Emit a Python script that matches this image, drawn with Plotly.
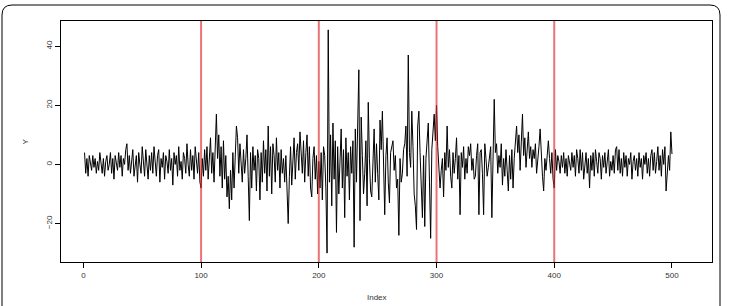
import plotly.graph_objects as go

# ---- data ----
y_values = [
    4, -3, 2, -4, 3, 1, -2, 3, -1, 2,
    -3, 1, -2, 4, 0, -3, 2, -4, 1, 3,
    -2, 0, 4, -3, 2, -5, 3, 1, -2, 4,
    -1, 3, -4, 2, 0, 5, 7, -2, 3, -3,
    2, 5, -4, 1, 3, -6, 4, 0, -3, 6,
    2, -4, 5, 1, -5, 3, -2, 4, -3, 6,
    0, -4, 3, 5, -6, 2, -1, 4, -5, 3,
    1, -3, 5, -2, 2, -7, 4, 0, 3, -4,
    6, -2, 1, -5, 4, 2, -3, 7, 0, -4,
    5, -2, 3, -5, 6, 1, -3, 4, -6, -8,
    2, -4, 5, -2, 6, -5, 3, 9, -3, 4,
    -6, 8, 17, 2, 10, -4, 6, -8, 8, -5,
    3, -11, -4, -15, -2, -12, 4, -8, 6, 13,
    9, -3, 7, 2, -6, 5, -3, 2, 10, -4,
    -19, 4, -8, 6, -2, 3, -9, 5, 2, -12,
    4, -6, 8, -3, 5, -9, 13, -4, 6, -10,
    7, 3, -6, 9, -2, 4, -8, 5, -3, 2,
    -6, 3, -9, -20, -4, 6, -7, 3, 9, -5,
    4, 7, -2, 11, 5, -3, 8, -6, 4, 10,
    -4, 6, -8, -11, 2, 6, -5, 3, -10, 1,
    -8, 4, -12, 6, 3, -8, -30, 45.5, -6, 10,
    -14, 14, -5, 8, -23, 6, -10, 4, 12, -8,
    5, -18, 9, -4, 4, -12, 6, -3, 8, -28,
    12, -6, 20, 32, -19, 16, 3, -10, -3, 8,
    -14, 21, 2, -9, -11, 5, 12, -6, 7, -3,
    -12, 15, 5, 18, -4, -17, 3, 9, -6, -13,
    4, 6, 8, -2, 3, -8, -5, -24, 2, -6,
    -3, 5, 7, 13, -4, 37, 4, -1, 18, 6,
    -10, -14, -22, 13, 18, 4, -8, -18, 3, -21,
    2, 9, 14, -6, -25, 5, 12, 17, 8, 20,
    6, -3, -8, -2, 2, -11, 4, -2, 13, -1,
    5, -4, -8, 4, -3, 2, 9, -5, 3, -17,
    4, -1, 6, -5, 2, -3, 6, 3, 7, -2,
    2, -5, -4, 3, 7, -17, 4, 5, -3, -17,
    7, 2, -4, -1, 3, 6, -18, 8, 22, 4,
    7, -3, 3, -1, 7, -7, 2, -4, 5, -2,
    -9, 3, -5, 5, -8, 2, 8, 13, 4, 10,
    -2, 7, 17, 3, 9, -1, 4, 11, 2, 6,
    -1, 5, 2, 7, -3, 1, 6, 12, 3, -4,
    -9, 2, -2, 5, 8, 2, -3, 4, -5, -8,
    5, -2, 3, 1, -3, 3, -1, 4, -3, 2,
    -4, 3, 0, -2, 4, -1, 3, -4, 5, 2,
    -3, 5, -2, 4, -5, 1, 4, -3, 2, -8,
    3, -2, 4, -4, 5, 1, -3, 4, 2, -5,
    3, -1, 4, -3, 2, 5, -4, 1, -2, 3,
    -3, 5, 6, -2, 5, -3, 2, -4, 4, -1,
    3, -4, 2, 0, 4, -5, 1, 3, -2, 2,
    -4, 4, -1, 2, -5, 3, 0, 4, -3, 2,
    -4, 3, 5, -2, 4, -3, 1, 6, -2, 3,
    -4, 5, 0, 6, -9, -4, 3, -2, 11, 3.5,
]
index = list(range(1, len(y_values) + 1))
vlines = [100, 200, 300, 400]
x_ticks = [0, 100, 200, 300, 400, 500]
y_ticks = [-20, 0, 20, 40]
x_title = "Index"
y_title = "Y"

# ---- layout geometry (pixels) ----
W, H = 729, 306
L, R, T, B = 61, 17, 21, 44
pw, ph = W - L - R, H - T - B


def px(x):
    return (x - L) / pw


def py(y):
    return (H - B - y) / ph


fig = go.Figure()
fig.add_trace(go.Scatter(x=index, y=y_values, mode="lines",
                         line=dict(color="black", width=1.0),
                         hoverinfo="skip", showlegend=False))

for v in vlines:
    fig.add_shape(type="line", xref="x", yref="paper", x0=v, x1=v, y0=0, y1=1,
                  line=dict(color="rgba(225,40,40,0.65)", width=2), layer="above")

# outer rounded frame
x0, x1, y0, y1, r = 2, 720, 5, 330, 10
rx, ry = r / pw, r / ph
path = (f"M {px(x0)},{py(y1)} L {px(x0)},{py(y0) - ry} "
        f"Q {px(x0)},{py(y0)} {px(x0) + rx},{py(y0)} "
        f"L {px(x1) - rx},{py(y0)} "
        f"Q {px(x1)},{py(y0)} {px(x1)},{py(y0) - ry} "
        f"L {px(x1)},{py(y1)}")
fig.add_shape(type="path", xref="paper", yref="paper", path=path,
              line=dict(color="black", width=1))

font = dict(family="Liberation Sans, Arial, sans-serif", size=8, color="#333333")

fig.add_annotation(text=x_title, xref="paper", yref="paper", x=px(377), y=py(297),
                   showarrow=False, font=font, xanchor="center", yanchor="middle")
fig.add_annotation(text=y_title, xref="paper", yref="paper", x=px(25), y=py(141.5),
                   showarrow=False, font=font, textangle=-90,
                   xanchor="center", yanchor="middle")

fig.update_layout(
    width=W, height=H, margin=dict(l=L, r=R, t=T, b=B, pad=0),
    paper_bgcolor="white", plot_bgcolor="white", font=font,
    xaxis=dict(range=[-19, 534], tickvals=x_ticks, ticks="outside", ticklen=5,
               tickcolor="black", showline=True, mirror=True, linecolor="black",
               linewidth=1, showgrid=False, zeroline=False, tickfont=font),
    yaxis=dict(range=[-33, 48.5], tickvals=y_ticks, ticks="outside", ticklen=5,
               tickcolor="black", showline=True, mirror=True, linecolor="black",
               linewidth=1, showgrid=False, zeroline=False, tickangle=-90,
               tickfont=font),
)

fig.write_html("out.html")
